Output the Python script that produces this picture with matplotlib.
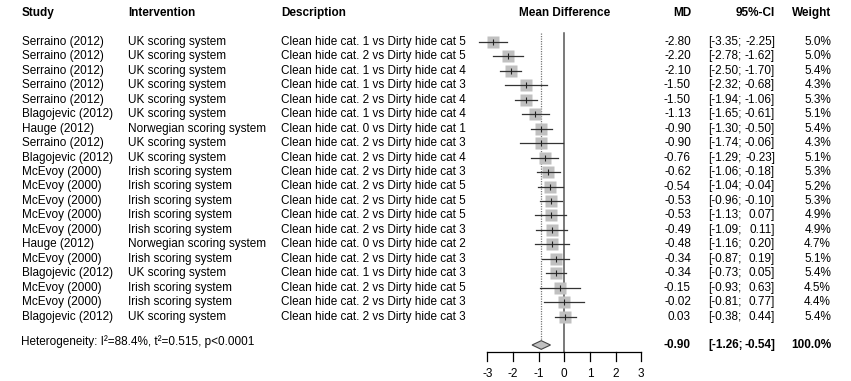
import matplotlib
matplotlib.use("Agg")
import matplotlib.pyplot as plt
from matplotlib.transforms import blended_transform_factory
import numpy as np

plt.rcParams['font.family'] = ['Liberation Sans', 'DejaVu Sans']

studies = ["Serraino (2012)", "Serraino (2012)", "Serraino (2012)", "Serraino (2012)", "Serraino (2012)",
           "Blagojevic (2012)", "Hauge (2012)", "Serraino (2012)", "Blagojevic (2012)", "McEvoy (2000)",
           "McEvoy (2000)", "McEvoy (2000)", "McEvoy (2000)", "McEvoy (2000)", "Hauge (2012)",
           "McEvoy (2000)", "Blagojevic (2012)", "McEvoy (2000)", "McEvoy (2000)", "Blagojevic (2012)"]
interventions = ["UK scoring system"] * 6 + ["Norwegian scoring system", "UK scoring system", "UK scoring system"] + \
    ["Irish scoring system"] * 5 + ["Norwegian scoring system", "Irish scoring system", "UK scoring system",
                                     "Irish scoring system", "Irish scoring system", "UK scoring system"]
descriptions = ["Clean hide cat. 1 vs Dirty hide cat 5", "Clean hide cat. 2 vs Dirty hide cat 5",
                "Clean hide cat. 1 vs Dirty hide cat 4", "Clean hide cat. 1 vs Dirty hide cat 3",
                "Clean hide cat. 2 vs Dirty hide cat 4", "Clean hide cat. 1 vs Dirty hide cat 4",
                "Clean hide cat. 0 vs Dirty hide cat 1", "Clean hide cat. 2 vs Dirty hide cat 3",
                "Clean hide cat. 2 vs Dirty hide cat 4", "Clean hide cat. 2 vs Dirty hide cat 3",
                "Clean hide cat. 2 vs Dirty hide cat 5", "Clean hide cat. 2 vs Dirty hide cat 5",
                "Clean hide cat. 2 vs Dirty hide cat 5", "Clean hide cat. 2 vs Dirty hide cat 3",
                "Clean hide cat. 0 vs Dirty hide cat 2", "Clean hide cat. 2 vs Dirty hide cat 3",
                "Clean hide cat. 1 vs Dirty hide cat 3", "Clean hide cat. 2 vs Dirty hide cat 5",
                "Clean hide cat. 2 vs Dirty hide cat 3", "Clean hide cat. 2 vs Dirty hide cat 3"]
md = [-2.80, -2.20, -2.10, -1.50, -1.50, -1.13, -0.90, -0.90, -0.76, -0.62,
      -0.54, -0.53, -0.53, -0.49, -0.48, -0.34, -0.34, -0.15, -0.02, 0.03]
lower = [-3.35, -2.78, -2.50, -2.32, -1.94, -1.65, -1.30, -1.74, -1.29, -1.06,
         -1.04, -0.96, -1.13, -1.09, -1.16, -0.87, -0.73, -0.93, -0.81, -0.38]
upper = [-2.25, -1.62, -1.70, -0.68, -1.06, -0.61, -0.50, -0.06, -0.23, -0.18,
         -0.04, -0.10, 0.07, 0.11, 0.20, 0.19, 0.05, 0.63, 0.77, 0.44]
weight = [5.0, 5.0, 5.4, 4.3, 5.3, 5.1, 5.4, 4.3, 5.1, 5.3,
          5.2, 5.3, 4.9, 4.9, 4.7, 5.1, 5.4, 4.5, 4.4, 5.4]
pooled_md, pooled_lo, pooled_hi = -0.90, -1.26, -0.54
het_text = "Heterogeneity: I²=88.4%, t²=0.515, p<0.0001"
xticks = [-3, -2, -1, 0, 1, 2, 3]

W, H = 851, 381
fig = plt.figure(figsize=(W / 100, H / 100), dpi=100)
ax = fig.add_axes([0, 0, 1, 1])
ax.axis('off')

# pixel mapping
x0_px, unit_px = 564.3, 25.6
row0_px, row_px = 42.0, 14.45
ax.set_xlim(-x0_px / unit_px, (W - x0_px) / unit_px)
ax.set_ylim((H - row0_px) / row_px, -row0_px / row_px)

n = len(md)
rows = np.arange(n)
y_pool = (345.0 - row0_px) / row_px
y_head = (13.0 - row0_px) / row_px
y_top = (33.0 - row0_px) / row_px
y_axis = (352.3 - row0_px) / row_px
y_tick = (360.5 - row0_px) / row_px
y_ticklab = (374.0 - row0_px) / row_px
y_het = (342.0 - row0_px) / row_px

fs = 8.5
tr = blended_transform_factory(fig.transFigure, ax.transData)
def fx(px):
    return px / W

# headers
ax.text(fx(22), y_head, "Study", transform=tr, fontsize=fs, fontweight='bold', va='center', ha='left')
ax.text(fx(128), y_head, "Intervention", transform=tr, fontsize=fs, fontweight='bold', va='center', ha='left')
ax.text(fx(281), y_head, "Description", transform=tr, fontsize=fs, fontweight='bold', va='center', ha='left')
ax.text(0, y_head, "Mean Difference", fontsize=fs, fontweight='bold', va='center', ha='center')
ax.text(fx(691), y_head, "MD", transform=tr, fontsize=fs, fontweight='bold', va='center', ha='right')
ax.text(fx(775), y_head, "95%-CI", transform=tr, fontsize=fs, fontweight='bold', va='center', ha='right')
ax.text(fx(831), y_head, "Weight", transform=tr, fontsize=fs, fontweight='bold', va='center', ha='right')

# reference lines
ax.plot([0, 0], [y_top, y_axis], color='#555555', lw=1.1, zorder=1)
ax.plot([pooled_md, pooled_md], [y_top, y_pool - 0.3], color='#777777', lw=0.9, ls=(0, (1, 1)), zorder=1)

# studies
for i in rows:
    y = i
    ax.text(fx(22), y, studies[i], transform=tr, fontsize=fs, va='center', ha='left')
    ax.text(fx(128), y, interventions[i], transform=tr, fontsize=fs, va='center', ha='left')
    ax.text(fx(281), y, descriptions[i], transform=tr, fontsize=fs, va='center', ha='left')
    side = 5.37 * np.sqrt(weight[i])  # pixels
    ax.plot(md[i], y, marker='s', markersize=side * 0.72, color='#c0c0c0', mec='none', zorder=2)
    ax.plot([lower[i], upper[i]], [y, y], color='#333333', lw=0.9, zorder=3)
    ax.plot(md[i], y, marker='|', markersize=4, color='#222222', mew=0.8, zorder=4)
    ax.text(fx(691), y, f"{md[i]:.2f}", transform=tr, fontsize=fs, va='center', ha='right')
    ax.text(fx(708), y, f"[{lower[i]:.2f};", transform=tr, fontsize=fs, va='center', ha='left')
    ax.text(fx(775), y, f"{upper[i]:.2f}]", transform=tr, fontsize=fs, va='center', ha='right')
    ax.text(fx(831), y, f"{weight[i]:.1f}%", transform=tr, fontsize=fs, va='center', ha='right')

# pooled diamond
dh = 0.3
ax.fill([pooled_lo, pooled_md, pooled_hi, pooled_md], [y_pool, y_pool - dh, y_pool, y_pool + dh],
        facecolor='#c0c0c0', edgecolor='#444444', lw=0.8, zorder=3)
ax.text(fx(691), y_pool, f"{pooled_md:.2f}", transform=tr, fontsize=fs, fontweight='bold', va='center', ha='right')
ax.text(fx(708), y_pool, f"[{pooled_lo:.2f};", transform=tr, fontsize=fs, fontweight='bold', va='center', ha='left')
ax.text(fx(775), y_pool, f"{pooled_hi:.2f}]", transform=tr, fontsize=fs, fontweight='bold', va='center', ha='right')
ax.text(fx(831), y_pool, f"{sum(weight) if False else 100.0:.1f}%", transform=tr, fontsize=fs, fontweight='bold', va='center', ha='right')
ax.text(fx(21), y_het, het_text, transform=tr, fontsize=fs, va='center', ha='left')

# x axis
ax.plot([xticks[0], xticks[-1]], [y_axis, y_axis], color='black', lw=0.9)
for t in xticks:
    ax.plot([t, t], [y_axis, y_tick], color='black', lw=0.9)
    ax.text(t, y_ticklab, f"{t}", fontsize=fs, va='center', ha='center')

fig.savefig("out.png", dpi=100)
